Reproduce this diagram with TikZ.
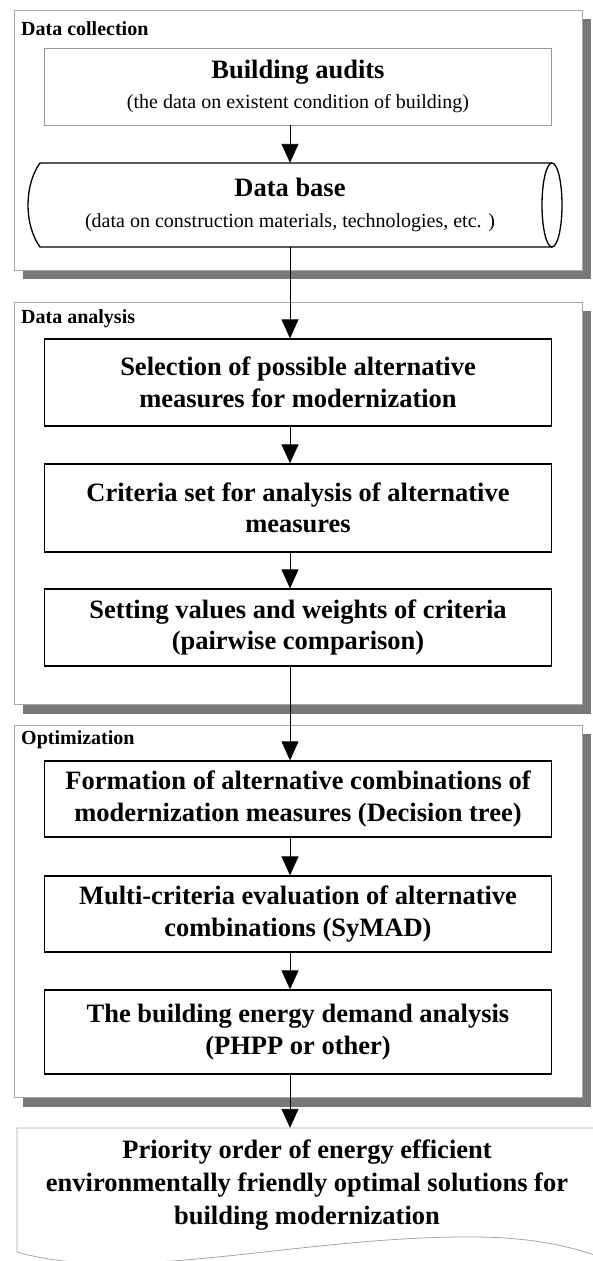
\documentclass[tikz,border=0pt]{standalone}
\usepackage{fontspec}
\setmainfont{Liberation Serif}
\usetikzlibrary{arrows.meta,calc}
\begin{document}
\begin{tikzpicture}[x=1pt,y=-1pt,
 panel/.style={draw=black!35, fill=white, line width=0.8pt},
 shadowbox/.style={fill=black!53, draw=none},
 stepbox/.style={draw=black, line width=1.3pt, fill=white, minimum width=507.5pt, inner sep=0pt, align=center, font=\bfseries\fontsize{26.5}{31.5}\selectfont},
 lab/.style={anchor=west, font=\bfseries\fontsize{20}{22}\selectfont, inner sep=0pt},
 arr/.style={line width=0.9pt, -{Triangle[width=17pt,length=19pt]}},
 dbline/.style={draw=black, line width=1.3pt},
]
\useasboundingbox (0,0) rectangle (592,1261);
\coordinate (ax) at (290,0);
% panels
\fill[shadowbox] (23,19) rectangle (591,279);
\draw[panel] (14,10) rectangle (582,270);
\fill[shadowbox] (23,311) rectangle (591,714);
\draw[panel] (14,302) rectangle (582,704);
\fill[shadowbox] (23,734) rectangle (591,1107);
\draw[panel] (14,725) rectangle (582,1097);
\node[lab] (l1) at (21,29) {Data collection};
\node[lab] (l2) at (21,319) {Data analysis};
\node[lab] (l3) at (21,740) {Optimization};
% data collection
\node[stepbox, draw=black!40, line width=0.8pt, minimum height=77pt] (ba) at (298,86.5)
 {Building audits\\[-1pt]{\mdseries\fontsize{20}{24}\selectfont (the data on existent condition of building)}};
\draw[dbline, fill=white] (552,163) -- (40,163) .. controls (24,185) and (24,225) .. (40,247) -- (552,247);
\draw[dbline] (552,205) ellipse [x radius=10pt, y radius=42pt];
\node[inner sep=0pt, minimum width=512pt, minimum height=84pt, align=center, font=\bfseries\fontsize{26.5}{31.5}\selectfont] (db) at (290,205)
 {Data base\\[0pt]{\mdseries\fontsize{20}{24}\selectfont (data on construction materials, technologies, etc. )}};
% data analysis
\node[stepbox, minimum height=87pt] (s1) at (298,382.5) {Selection of possible alternative\\measures for modernization};
\node[stepbox, minimum height=88pt] (s2) at (298,508) {Criteria set for analysis of alternative\\measures};
\node[stepbox, minimum height=77pt] (s3) at (298,627.5) {Setting values and weights of criteria\\(pairwise comparison)};
% optimization
\node[stepbox, minimum height=76pt] (o1) at (298,799) {Formation of alternative combinations of\\modernization measures (Decision tree)};
\node[stepbox, minimum height=76pt] (o2) at (298,914) {Multi-criteria evaluation of alternative\\combinations (SyMAD)};
\node[stepbox, minimum height=84pt] (o3) at (298,1032) {The building energy demand analysis\\(PHPP or other)};
% result document
\draw[draw=black!35, line width=0.8pt, fill=white] (600,1257) .. controls (570,1246) and (530,1237) .. (472,1237)
 .. controls (300,1236) and (130,1285) .. (17,1252) -- (17,1128) -- (600,1128);
\node[inner sep=0pt, minimum width=583pt, minimum height=114pt, align=center, font=\bfseries\fontsize{26.5}{33}\selectfont] (res) at (307,1185)
 {Priority order of energy efficient\\environmentally friendly optimal solutions for\\building modernization};
% connectors
\draw[arr] (ba.south -| ax) -- (db.north -| ax);
\draw[arr] (db.south -| ax) -- (s1.north -| ax);
\draw[arr] (s1.south -| ax) -- (s2.north -| ax);
\draw[arr] (s2.south -| ax) -- (s3.north -| ax);
\draw[arr] (s3.south -| ax) -- (o1.north -| ax);
\draw[arr] (o1.south -| ax) -- (o2.north -| ax);
\draw[arr] (o2.south -| ax) -- (o3.north -| ax);
\draw[arr] (o3.south -| ax) -- (res.north -| ax);
\end{tikzpicture}
\end{document}
